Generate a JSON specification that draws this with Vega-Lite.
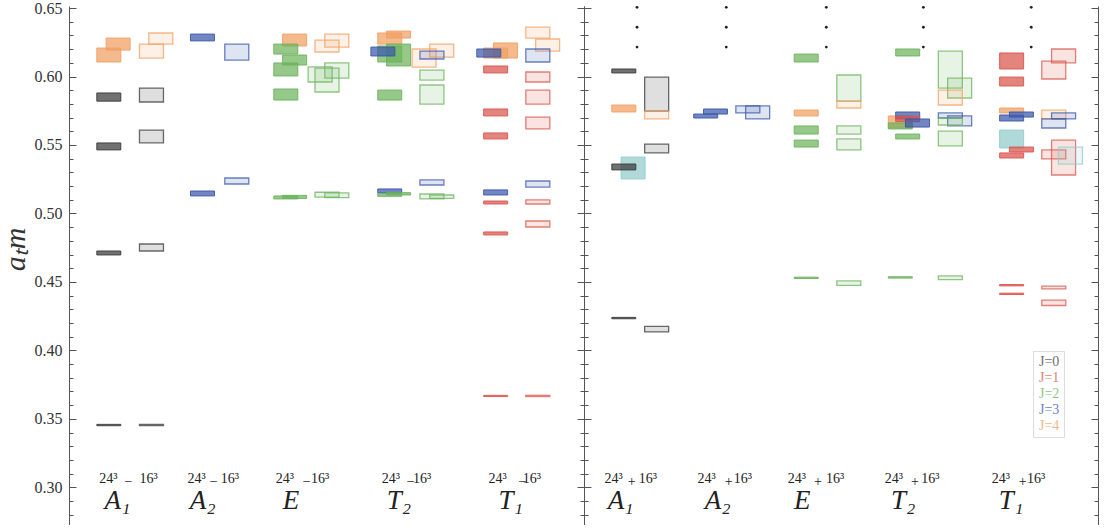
{
  "$schema": "https://vega.github.io/schema/vega-lite/v6.json",
  "background": "white",
  "padding": {"left": 0, "top": 0, "right": 5, "bottom": 0},
  "spacing": 0,
  "bounds": "flush",
  "config": {
    "view": {"stroke": null},
    "axis": {"domainColor": "#555", "tickColor": "#555", "grid": false, "labelFlush": false, "labelOverlap": false, "labelBound": false}
  },
  "datasets": {
    "boxes": [
      {"p":"neg","v":"24","J":"4","x":0.71,"lo":0.6106,"hi":0.6208},
      {"p":"neg","v":"24","J":"4","x":0.90,"lo":0.6193,"hi":0.6281},
      {"p":"neg","v":"24","J":"0","x":0.71,"lo":0.582,"hi":0.588},
      {"p":"neg","v":"24","J":"0","x":0.71,"lo":0.5464,"hi":0.5515},
      {"p":"neg","v":"24","J":"0","x":0.71,"lo":0.4697,"hi":0.4726},
      {"p":"neg","v":"24","J":"0","x":0.71,"lo":0.3450,"hi":0.3460},
      {"p":"neg","v":"16","J":"4","x":1.77,"lo":0.6237,"hi":0.6318},
      {"p":"neg","v":"16","J":"4","x":1.58,"lo":0.6135,"hi":0.6237},
      {"p":"neg","v":"16","J":"0","x":1.58,"lo":0.5814,"hi":0.5916},
      {"p":"neg","v":"16","J":"0","x":1.58,"lo":0.5515,"hi":0.5609},
      {"p":"neg","v":"16","J":"0","x":1.58,"lo":0.4726,"hi":0.4777},
      {"p":"neg","v":"16","J":"0","x":1.58,"lo":0.3450,"hi":0.3460},
      {"p":"neg","v":"24","J":"3","x":2.62,"lo":0.626,"hi":0.631},
      {"p":"neg","v":"24","J":"3","x":2.62,"lo":0.5128,"hi":0.5164},
      {"p":"neg","v":"16","J":"3","x":3.32,"lo":0.612,"hi":0.6237},
      {"p":"neg","v":"16","J":"3","x":3.32,"lo":0.5215,"hi":0.5259},
      {"p":"neg","v":"24","J":"4","x":4.50,"lo":0.6223,"hi":0.631},
      {"p":"neg","v":"24","J":"2","x":4.32,"lo":0.6164,"hi":0.6237},
      {"p":"neg","v":"24","J":"2","x":4.50,"lo":0.6084,"hi":0.6157},
      {"p":"neg","v":"24","J":"2","x":4.32,"lo":0.6004,"hi":0.6099},
      {"p":"neg","v":"24","J":"2","x":4.32,"lo":0.5828,"hi":0.5909},
      {"p":"neg","v":"24","J":"2","x":4.32,"lo":0.5106,"hi":0.5128},
      {"p":"neg","v":"24","J":"2","x":4.50,"lo":0.5110,"hi":0.5132},
      {"p":"neg","v":"16","J":"4","x":5.16,"lo":0.6179,"hi":0.6266},
      {"p":"neg","v":"16","J":"4","x":5.36,"lo":0.6215,"hi":0.631},
      {"p":"neg","v":"16","J":"2","x":5.36,"lo":0.5989,"hi":0.6099},
      {"p":"neg","v":"16","J":"2","x":5.02,"lo":0.596,"hi":0.607},
      {"p":"neg","v":"16","J":"2","x":5.16,"lo":0.5887,"hi":0.6062},
      {"p":"neg","v":"16","J":"2","x":5.16,"lo":0.512,"hi":0.5155},
      {"p":"neg","v":"16","J":"2","x":5.36,"lo":0.5115,"hi":0.515},
      {"p":"neg","v":"24","J":"4","x":6.62,"lo":0.6281,"hi":0.6332},
      {"p":"neg","v":"24","J":"4","x":6.44,"lo":0.6237,"hi":0.6318},
      {"p":"neg","v":"24","J":"2","x":6.44,"lo":0.6106,"hi":0.6223},
      {"p":"neg","v":"24","J":"2","x":6.62,"lo":0.6077,"hi":0.6237},
      {"p":"neg","v":"24","J":"3","x":6.30,"lo":0.615,"hi":0.6215},
      {"p":"neg","v":"24","J":"2","x":6.44,"lo":0.5828,"hi":0.5901},
      {"p":"neg","v":"24","J":"3","x":6.44,"lo":0.515,"hi":0.5179},
      {"p":"neg","v":"24","J":"2","x":6.44,"lo":0.5125,"hi":0.5145},
      {"p":"neg","v":"24","J":"2","x":6.62,"lo":0.5135,"hi":0.5152},
      {"p":"neg","v":"16","J":"4","x":7.50,"lo":0.6142,"hi":0.6237},
      {"p":"neg","v":"16","J":"4","x":7.14,"lo":0.6069,"hi":0.6201},
      {"p":"neg","v":"16","J":"3","x":7.30,"lo":0.6128,"hi":0.6186},
      {"p":"neg","v":"16","J":"2","x":7.30,"lo":0.5974,"hi":0.6047},
      {"p":"neg","v":"16","J":"2","x":7.30,"lo":0.5799,"hi":0.5938},
      {"p":"neg","v":"16","J":"3","x":7.30,"lo":0.5208,"hi":0.5245},
      {"p":"neg","v":"16","J":"2","x":7.30,"lo":0.5106,"hi":0.5142},
      {"p":"neg","v":"16","J":"2","x":7.50,"lo":0.511,"hi":0.5135},
      {"p":"neg","v":"24","J":"4","x":8.80,"lo":0.6135,"hi":0.6245},
      {"p":"neg","v":"24","J":"4","x":8.60,"lo":0.6135,"hi":0.6208},
      {"p":"neg","v":"24","J":"3","x":8.46,"lo":0.6142,"hi":0.6201},
      {"p":"neg","v":"24","J":"1","x":8.60,"lo":0.6026,"hi":0.6077},
      {"p":"neg","v":"24","J":"1","x":8.60,"lo":0.5712,"hi":0.5763},
      {"p":"neg","v":"24","J":"1","x":8.60,"lo":0.5544,"hi":0.5588},
      {"p":"neg","v":"24","J":"3","x":8.60,"lo":0.5135,"hi":0.5172},
      {"p":"neg","v":"24","J":"1","x":8.60,"lo":0.5069,"hi":0.5091},
      {"p":"neg","v":"24","J":"1","x":8.60,"lo":0.4843,"hi":0.4865},
      {"p":"neg","v":"24","J":"1","x":8.60,"lo":0.3663,"hi":0.3672},
      {"p":"neg","v":"16","J":"4","x":9.46,"lo":0.6281,"hi":0.6361},
      {"p":"neg","v":"16","J":"4","x":9.66,"lo":0.6186,"hi":0.6274},
      {"p":"neg","v":"16","J":"3","x":9.46,"lo":0.6106,"hi":0.6201},
      {"p":"neg","v":"16","J":"1","x":9.46,"lo":0.596,"hi":0.6033},
      {"p":"neg","v":"16","J":"1","x":9.46,"lo":0.5799,"hi":0.5901},
      {"p":"neg","v":"16","J":"1","x":9.46,"lo":0.5617,"hi":0.5704},
      {"p":"neg","v":"16","J":"3","x":9.46,"lo":0.5193,"hi":0.5237},
      {"p":"neg","v":"16","J":"1","x":9.46,"lo":0.5069,"hi":0.5099},
      {"p":"neg","v":"16","J":"1","x":9.46,"lo":0.4901,"hi":0.4945},
      {"p":"neg","v":"16","J":"1","x":9.46,"lo":0.3663,"hi":0.3672},
      {"p":"pos","v":"24","J":"0","x":0.71,"lo":0.6026,"hi":0.6055},
      {"p":"pos","v":"24","J":"4","x":0.71,"lo":0.5741,"hi":0.5792},
      {"p":"pos","v":"24","J":"?","x":0.90,"lo":0.5252,"hi":0.5412},
      {"p":"pos","v":"24","J":"0","x":0.71,"lo":0.5318,"hi":0.5361},
      {"p":"pos","v":"24","J":"0","x":0.71,"lo":0.4231,"hi":0.4241},
      {"p":"pos","v":"16","J":"0","x":1.38,"lo":0.5748,"hi":0.5996},
      {"p":"pos","v":"16","J":"4","x":1.38,"lo":0.569,"hi":0.5748},
      {"p":"pos","v":"16","J":"0","x":1.38,"lo":0.5442,"hi":0.5507},
      {"p":"pos","v":"16","J":"0","x":1.38,"lo":0.4135,"hi":0.4175},
      {"p":"pos","v":"24","J":"3","x":2.38,"lo":0.5697,"hi":0.5726},
      {"p":"pos","v":"24","J":"3","x":2.58,"lo":0.5726,"hi":0.5763},
      {"p":"pos","v":"16","J":"3","x":3.24,"lo":0.5734,"hi":0.5785},
      {"p":"pos","v":"16","J":"3","x":3.44,"lo":0.569,"hi":0.5785},
      {"p":"pos","v":"24","J":"2","x":4.43,"lo":0.6106,"hi":0.6164},
      {"p":"pos","v":"24","J":"4","x":4.43,"lo":0.5712,"hi":0.5755},
      {"p":"pos","v":"24","J":"2","x":4.43,"lo":0.558,"hi":0.5639},
      {"p":"pos","v":"24","J":"2","x":4.43,"lo":0.5485,"hi":0.5536},
      {"p":"pos","v":"24","J":"2","x":4.43,"lo":0.4525,"hi":0.4535},
      {"p":"pos","v":"16","J":"2","x":5.30,"lo":0.5821,"hi":0.6011},
      {"p":"pos","v":"16","J":"4","x":5.30,"lo":0.577,"hi":0.5821},
      {"p":"pos","v":"16","J":"2","x":5.30,"lo":0.558,"hi":0.5639},
      {"p":"pos","v":"16","J":"2","x":5.30,"lo":0.5464,"hi":0.5544},
      {"p":"pos","v":"16","J":"2","x":5.30,"lo":0.4475,"hi":0.4507},
      {"p":"pos","v":"24","J":"2","x":6.50,"lo":0.615,"hi":0.6201},
      {"p":"pos","v":"24","J":"4","x":6.35,"lo":0.5624,"hi":0.5712},
      {"p":"pos","v":"24","J":"2","x":6.35,"lo":0.5617,"hi":0.5661},
      {"p":"pos","v":"24","J":"3","x":6.50,"lo":0.569,"hi":0.5741},
      {"p":"pos","v":"24","J":"1","x":6.50,"lo":0.567,"hi":0.571},
      {"p":"pos","v":"24","J":"3","x":6.70,"lo":0.5631,"hi":0.569},
      {"p":"pos","v":"24","J":"2","x":6.50,"lo":0.5544,"hi":0.558},
      {"p":"pos","v":"24","J":"2","x":6.35,"lo":0.4528,"hi":0.4538},
      {"p":"pos","v":"16","J":"2","x":7.37,"lo":0.5916,"hi":0.6186},
      {"p":"pos","v":"16","J":"2","x":7.56,"lo":0.5843,"hi":0.5989},
      {"p":"pos","v":"16","J":"4","x":7.37,"lo":0.5792,"hi":0.5901},
      {"p":"pos","v":"16","J":"3","x":7.37,"lo":0.5697,"hi":0.5734},
      {"p":"pos","v":"16","J":"3","x":7.56,"lo":0.5639,"hi":0.5712},
      {"p":"pos","v":"16","J":"2","x":7.37,"lo":0.5646,"hi":0.5697},
      {"p":"pos","v":"16","J":"2","x":7.37,"lo":0.5493,"hi":0.5602},
      {"p":"pos","v":"16","J":"2","x":7.37,"lo":0.4517,"hi":0.4544},
      {"p":"pos","v":"24","J":"1","x":8.62,"lo":0.6055,"hi":0.6172},
      {"p":"pos","v":"24","J":"1","x":8.62,"lo":0.5931,"hi":0.5996},
      {"p":"pos","v":"24","J":"4","x":8.62,"lo":0.5734,"hi":0.577},
      {"p":"pos","v":"24","J":"3","x":8.62,"lo":0.5675,"hi":0.5719},
      {"p":"pos","v":"24","J":"3","x":8.82,"lo":0.5704,"hi":0.5741},
      {"p":"pos","v":"24","J":"?","x":8.62,"lo":0.5478,"hi":0.5609},
      {"p":"pos","v":"24","J":"1","x":8.82,"lo":0.5449,"hi":0.5485},
      {"p":"pos","v":"24","J":"1","x":8.62,"lo":0.5405,"hi":0.5442},
      {"p":"pos","v":"24","J":"1","x":8.62,"lo":0.4471,"hi":0.4481},
      {"p":"pos","v":"24","J":"1","x":8.62,"lo":0.4408,"hi":0.4418},
      {"p":"pos","v":"16","J":"1","x":9.68,"lo":0.6099,"hi":0.6201},
      {"p":"pos","v":"16","J":"1","x":9.48,"lo":0.5982,"hi":0.6113},
      {"p":"pos","v":"16","J":"4","x":9.48,"lo":0.569,"hi":0.5755},
      {"p":"pos","v":"16","J":"3","x":9.68,"lo":0.569,"hi":0.5734},
      {"p":"pos","v":"16","J":"3","x":9.48,"lo":0.5624,"hi":0.569},
      {"p":"pos","v":"16","J":"1","x":9.68,"lo":0.5281,"hi":0.5536},
      {"p":"pos","v":"16","J":"1","x":9.48,"lo":0.5398,"hi":0.5464},
      {"p":"pos","v":"16","J":"?","x":9.82,"lo":0.5361,"hi":0.5485},
      {"p":"pos","v":"16","J":"1","x":9.48,"lo":0.445,"hi":0.447},
      {"p":"pos","v":"16","J":"1","x":9.48,"lo":0.4328,"hi":0.4367}
    ],
    "dots": [
      {"x":0.98,"y":0.6505},{"x":0.98,"y":0.636},{"x":0.98,"y":0.6215},
      {"x":2.80,"y":0.6505},{"x":2.80,"y":0.636},{"x":2.80,"y":0.6215},
      {"x":4.84,"y":0.6505},{"x":4.84,"y":0.636},{"x":4.84,"y":0.6215},
      {"x":6.82,"y":0.6505},{"x":6.82,"y":0.636},{"x":6.82,"y":0.6215},
      {"x":9.02,"y":0.6505},{"x":9.02,"y":0.636},{"x":9.02,"y":0.6215}
    ],
    "vlabels": [
      {"p":"neg","x":0.70,"t":"24³"},{"p":"neg","x":1.52,"t":"16³"},
      {"p":"neg","x":2.50,"t":"24³"},{"p":"neg","x":3.18,"t":"16³"},
      {"p":"neg","x":4.30,"t":"24³"},{"p":"neg","x":5.02,"t":"16³"},
      {"p":"neg","x":6.46,"t":"24³"},{"p":"neg","x":7.10,"t":"16³"},
      {"p":"neg","x":8.64,"t":"24³"},{"p":"neg","x":9.34,"t":"16³"},
      {"p":"pos","x":0.50,"t":"24³"},{"p":"pos","x":1.20,"t":"16³"},
      {"p":"pos","x":2.40,"t":"24³"},{"p":"pos","x":3.14,"t":"16³"},
      {"p":"pos","x":4.24,"t":"24³"},{"p":"pos","x":5.02,"t":"16³"},
      {"p":"pos","x":6.22,"t":"24³"},{"p":"pos","x":6.96,"t":"16³"},
      {"p":"pos","x":8.40,"t":"24³"},{"p":"pos","x":9.12,"t":"16³"}
    ],
    "ilabels": [
      {"p":"neg","x":0.62,"t":"A₁","s":"−"},
      {"p":"neg","x":2.36,"t":"A₂","s":"−"},
      {"p":"neg","x":4.26,"t":"E","s":"−"},
      {"p":"neg","x":6.38,"t":"T₂","s":"−"},
      {"p":"neg","x":8.66,"t":"T₁","s":"−"},
      {"p":"pos","x":0.38,"t":"A₁","s":"+"},
      {"p":"pos","x":2.36,"t":"A₂","s":"+"},
      {"p":"pos","x":4.18,"t":"E","s":"+"},
      {"p":"pos","x":6.16,"t":"T₂","s":"+"},
      {"p":"pos","x":8.36,"t":"T₁","s":"+"}
    ]
  },
  "resolve": {"scale": {"color": "shared", "stroke": "shared"}},
  "hconcat": [
    {
      "width": 515,
      "height": 519,
      "layer": [
        {
          "data": {"name": "boxes"},
          "transform": [{"filter": "datum.p == 'neg' && datum.v == '16'"}],
          "mark": {"type": "bar", "width": 24, "fillOpacity": 0.16, "strokeWidth": 1.3, "strokeOpacity": 0.75},
          "encoding": {
            "x": {"field": "x", "type": "quantitative", "scale": {"domain": [0, 10.3], "nice": false, "zero": false}, "axis": null},
            "y": {"field": "lo", "type": "quantitative", "scale": {"domain": [0.2725, 0.6515], "nice": false, "zero": false},
              "axis": {"orient": "right", "title": null, "values": [0.28,0.29,0.30,0.31,0.32,0.33,0.34,0.35,0.36,0.37,0.38,0.39,0.40,0.41,0.42,0.43,0.44,0.45,0.46,0.47,0.48,0.49,0.50,0.51,0.52,0.53,0.54,0.55,0.56,0.57,0.58,0.59,0.60,0.61,0.62,0.63,0.64,0.65],
                "labels": false,
                "tickSize": {"condition": {"test": "abs(datum.value*20-round(datum.value*20))<0.01", "value": -7}, "value": -4}}},
            "y2": {"field": "hi"},
            "color": {"field": "J", "type": "nominal", "scale": {"domain": ["0","1","2","3","4","?"], "range": ["#3a3a3a","#d9554c","#6cb35c","#3a57aa","#f0a062","#92cccc"]},
              "legend": {"orient": "none", "legendX": 964, "legendY": 345, "title": null, "values": ["0","1","2","3","4"], "labelExpr": "'J=' + datum.label",
                "labelFont": "Liberation Serif", "labelFontSize": 14, "symbolSize": 0, "symbolStrokeWidth": 0, "symbolOpacity": 0, "labelOffset": -12,
                "strokeColor": "#dddddd", "padding": 4, "rowPadding": 2,
                "encode": {"labels": {"update": {"fill": {"scale": "color", "field": "value"}, "opacity": {"value": 0.75}}}}}},
            "stroke": {"field": "J", "type": "nominal", "scale": {"domain": ["0","1","2","3","4","?"], "range": ["#3a3a3a","#d9554c","#6cb35c","#3a57aa","#f0a062","#92cccc"]}, "legend": null}
          }
        },
        {
          "data": {"name": "boxes"},
          "transform": [{"filter": "datum.p == 'neg' && datum.v == '24'"}],
          "mark": {"type": "bar", "width": 24, "fillOpacity": 0.72, "strokeWidth": 1, "strokeOpacity": 0.9},
          "encoding": {
            "x": {"field": "x", "type": "quantitative"},
            "y": {"field": "lo", "type": "quantitative",
              "axis": {"orient": "left", "values": [0.28,0.29,0.30,0.31,0.32,0.33,0.34,0.35,0.36,0.37,0.38,0.39,0.40,0.41,0.42,0.43,0.44,0.45,0.46,0.47,0.48,0.49,0.50,0.51,0.52,0.53,0.54,0.55,0.56,0.57,0.58,0.59,0.60,0.61,0.62,0.63,0.64,0.65],
                "tickSize": {"condition": {"test": "abs(datum.value*20-round(datum.value*20))<0.01", "value": -7}, "value": -4},
                "labelExpr": "abs(datum.value*20-round(datum.value*20))<0.01 ? format(datum.value,'.2f') : ''",
                "labelPadding": 14, "labelFont": "Liberation Serif", "labelFontSize": 16, "labelColor": "#333",
                "title": "aₜm", "titleFont": "Liberation Serif", "titleFontStyle": "italic", "titleFontSize": 30, "titleFontWeight": "normal", "titleColor": "#333", "titlePadding": 4, "titleY": 243}},
            "y2": {"field": "hi"},
            "color": {"field": "J", "type": "nominal"},
            "stroke": {"field": "J", "type": "nominal", "legend": null}
          }
        },
        {
          "data": {"name": "vlabels"},
          "transform": [{"filter": "datum.p == 'neg'"}],
          "mark": {"type": "text", "font": "Liberation Serif", "fontSize": 14, "color": "#222", "align": "center", "baseline": "alphabetic"},
          "encoding": {
            "x": {"field": "x", "type": "quantitative"},
            "y": {"datum": 0.3033, "type": "quantitative", "axis": null},
            "text": {"field": "t"}
          }
        },
        {
          "data": {"name": "ilabels"},
          "transform": [{"filter": "datum.p == 'neg'"}],
          "mark": {"type": "text", "font": "Liberation Serif", "fontStyle": "italic", "fontSize": 27, "color": "#222", "align": "left", "baseline": "alphabetic"},
          "encoding": {
            "x": {"field": "x", "type": "quantitative"},
            "y": {"datum": 0.2843, "type": "quantitative", "axis": null},
            "text": {"field": "t"}
          }
        },
        {
          "data": {"name": "ilabels"},
          "transform": [{"filter": "datum.p == 'neg'"}],
          "mark": {"type": "text", "font": "Liberation Serif", "fontSize": 14, "color": "#222", "align": "left", "baseline": "alphabetic", "dx": 20, "dy": -23},
          "encoding": {
            "x": {"field": "x", "type": "quantitative"},
            "y": {"datum": 0.2843, "type": "quantitative", "axis": null},
            "text": {"field": "s"}
          }
        }
      ],
      "resolve": {"axis": {"y": "independent"}}
    },
    {
      "width": 514,
      "height": 519,
      "layer": [
        {
          "data": {"name": "boxes"},
          "transform": [{"filter": "datum.p == 'pos' && datum.v == '16'"}],
          "mark": {"type": "bar", "width": 24, "fillOpacity": 0.16, "strokeWidth": 1.3, "strokeOpacity": 0.75},
          "encoding": {
            "x": {"field": "x", "type": "quantitative", "scale": {"domain": [0, 10.28], "nice": false, "zero": false}, "axis": null},
            "y": {"field": "lo", "type": "quantitative", "scale": {"domain": [0.2725, 0.6515], "nice": false, "zero": false},
              "axis": {"orient": "right", "title": null, "values": [0.28,0.29,0.30,0.31,0.32,0.33,0.34,0.35,0.36,0.37,0.38,0.39,0.40,0.41,0.42,0.43,0.44,0.45,0.46,0.47,0.48,0.49,0.50,0.51,0.52,0.53,0.54,0.55,0.56,0.57,0.58,0.59,0.60,0.61,0.62,0.63,0.64,0.65],
                "labels": false,
                "tickSize": {"condition": {"test": "abs(datum.value*20-round(datum.value*20))<0.01", "value": -7}, "value": -4}}},
            "y2": {"field": "hi"},
            "color": {"field": "J", "type": "nominal"},
            "stroke": {"field": "J", "type": "nominal", "legend": null}
          }
        },
        {
          "data": {"name": "boxes"},
          "transform": [{"filter": "datum.p == 'pos' && datum.v == '24'"}],
          "mark": {"type": "bar", "width": 24, "fillOpacity": 0.72, "strokeWidth": 1, "strokeOpacity": 0.9},
          "encoding": {
            "x": {"field": "x", "type": "quantitative"},
            "y": {"field": "lo", "type": "quantitative",
              "axis": {"orient": "left", "title": null, "values": [0.28,0.29,0.30,0.31,0.32,0.33,0.34,0.35,0.36,0.37,0.38,0.39,0.40,0.41,0.42,0.43,0.44,0.45,0.46,0.47,0.48,0.49,0.50,0.51,0.52,0.53,0.54,0.55,0.56,0.57,0.58,0.59,0.60,0.61,0.62,0.63,0.64,0.65],
                "labels": false,
                "tickSize": {"condition": {"test": "abs(datum.value*20-round(datum.value*20))<0.01", "value": -7}, "value": -4}}},
            "y2": {"field": "hi"},
            "color": {"field": "J", "type": "nominal"},
            "stroke": {"field": "J", "type": "nominal", "legend": null}
          }
        },
        {
          "data": {"name": "dots"},
          "mark": {"type": "point", "filled": true, "size": 8, "color": "#222", "opacity": 1},
          "encoding": {
            "x": {"field": "x", "type": "quantitative"},
            "y": {"field": "y", "type": "quantitative", "axis": null}
          }
        },
        {
          "data": {"name": "vlabels"},
          "transform": [{"filter": "datum.p == 'pos'"}],
          "mark": {"type": "text", "font": "Liberation Serif", "fontSize": 14, "color": "#222", "align": "center", "baseline": "alphabetic"},
          "encoding": {
            "x": {"field": "x", "type": "quantitative"},
            "y": {"datum": 0.3033, "type": "quantitative", "axis": null},
            "text": {"field": "t"}
          }
        },
        {
          "data": {"name": "ilabels"},
          "transform": [{"filter": "datum.p == 'pos'"}],
          "mark": {"type": "text", "font": "Liberation Serif", "fontStyle": "italic", "fontSize": 27, "color": "#222", "align": "left", "baseline": "alphabetic"},
          "encoding": {
            "x": {"field": "x", "type": "quantitative"},
            "y": {"datum": 0.2843, "type": "quantitative", "axis": null},
            "text": {"field": "t"}
          }
        },
        {
          "data": {"name": "ilabels"},
          "transform": [{"filter": "datum.p == 'pos'"}],
          "mark": {"type": "text", "font": "Liberation Serif", "fontSize": 14, "color": "#222", "align": "left", "baseline": "alphabetic", "dx": 20, "dy": -23},
          "encoding": {
            "x": {"field": "x", "type": "quantitative"},
            "y": {"datum": 0.2843, "type": "quantitative", "axis": null},
            "text": {"field": "s"}
          }
        }
      ],
      "resolve": {"axis": {"y": "independent"}}
    }
  ]
}
